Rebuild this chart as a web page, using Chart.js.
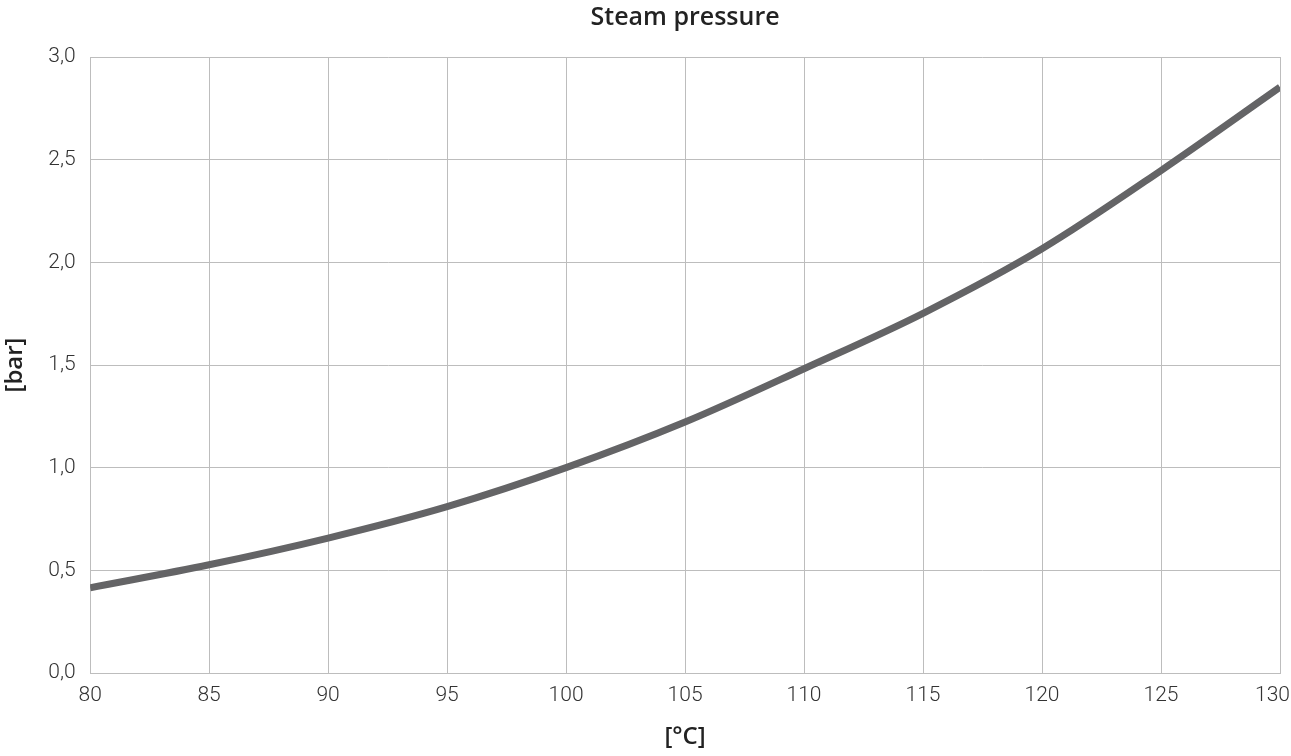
<!DOCTYPE html>
<html>
<head>
<meta charset="utf-8">
<script src="https://cdn.jsdelivr.net/npm/chart.js@4/dist/chart.umd.min.js"></script>
<style>
  html, body { margin: 0; padding: 0; background: #fff; }
  #wrap { width: 1291px; height: 756px; }
</style>
</head>
<body>
<div id="wrap"><canvas id="c"></canvas></div>
<script>
// Steam pressure curve
const temps = [80, 85, 90, 95, 100, 105, 110, 115, 120, 125, 130];
const pressure = [0.415, 0.527, 0.657, 0.81, 1.0, 1.222, 1.482, 1.752, 2.066, 2.447, 2.853];

const xTicks = [80, 85, 90, 95, 100, 105, 110, 115, 120, 125, 130];
const yTicks = [0, 0.5, 1.0, 1.5, 2.0, 2.5, 3.0];

const GRID = '#bdbdbd';
const TXT = '#333';
const comma = (v) => Number(v).toFixed(1).replace('.', ',');

new Chart(document.getElementById('c'), {
  type: 'line',
  data: {
    datasets: [{
      label: 'Steam pressure',
      data: temps.map((t, i) => ({ x: t, y: pressure[i] })),
      borderColor: '#646466',
      borderWidth: 7,
      pointRadius: 0,
      fill: false,
      cubicInterpolationMode: 'monotone',
    }],
  },
  options: {
    responsive: true,
    maintainAspectRatio: false,
    animation: false,
    layout: { padding: { left: 1, right: 11, top: 0, bottom: 4 } },
    plugins: {
      legend: { display: false },
      tooltip: { enabled: false },
      title: {
        display: true,
        fullSize: false,          // centre over the plot area
        text: 'Steam pressure',
        color: '#222',
        font: { family: 'Open Sans', size: 25, weight: '600' },
        padding: { top: 3, bottom: 24 },
      },
    },
    scales: {
      x: {
        type: 'linear',
        min: 80,
        max: 130,
        afterBuildTicks: (s) => { s.ticks = xTicks.map(v => ({ value: v })); },
        // let the last label hang past the plot edge like the original
        afterFit: (s) => { s.paddingRight = 0; },
        grid: { color: GRID, lineWidth: 1, drawTicks: false },
        border: { color: GRID },
        ticks: {
          color: TXT,
          padding: 10,
          maxRotation: 0,
          // last label nudged left so it stays on the canvas
          callback: (v) => v === 130 ? v + '\u2002\u2009' : String(v),
          font: { family: 'Roboto', size: 21, weight: '300' },
        },
        title: {
          display: true,
          text: '[°C]',
          color: '#222',
          font: { family: 'Open Sans', size: 24, weight: '600' },
          padding: { top: 5, bottom: 0 },
        },
      },
      y: {
        min: 0,
        max: 3,
        afterBuildTicks: (s) => { s.ticks = yTicks.map(v => ({ value: v })); },
        grid: { color: GRID, lineWidth: 1, drawTicks: false },
        border: { color: GRID },
        ticks: {
          color: TXT,
          padding: 14.5,
          callback: comma,
          font: { family: 'Roboto', size: 21, weight: '300' },
        },
        title: {
          display: true,
          text: '[bar]',
          color: '#222',
          font: { family: 'Open Sans', size: 24, weight: '600' },
          padding: { top: 0, bottom: 4 },
        },
      },
    },
  },
});
</script>
</body>
</html>
